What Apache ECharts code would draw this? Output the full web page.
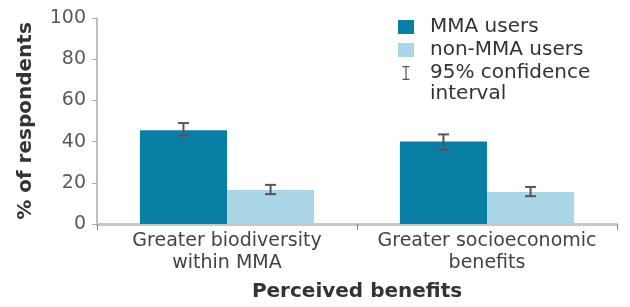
<!DOCTYPE html>
<html style="height: 100%">
   <head>
       <meta charset="utf-8">
       <script src="https://cdn.jsdelivr.net/npm/echarts@6/dist/echarts.min.js"></script>
       <title>Perceived benefits</title>
   </head>
   <body style="height: 100%; margin: 0; background: #fff">
       <div id="container" style="width: 630px; height: 307px"></div>
       <script type="text/javascript">

let categories = ['Greater biodiversity\nwithin MMA', 'Greater socioeconomic\nbenefits'];
let mmaValues = [45.5, 40];
let nonMmaValues = [16.5, 15.5];
// 95% confidence interval, low / high
let mmaLow = [43, 36];
let mmaHigh = [49, 43.5];
let nonMmaLow = [14.5, 13.5];
let nonMmaHigh = [19, 18];

const gapRatio = 0.33;
let errData = [];
for (let i = 0; i < categories.length; i++) {
    errData.push([i, mmaLow[i], mmaHigh[i], -1]);
    errData.push([i, nonMmaLow[i], nonMmaHigh[i], 1]);
}

function renderErr(params, api) {
    let cat = api.value(0);
    let lo = api.coord([cat, api.value(1)]);
    let hi = api.coord([cat, api.value(2)]);
    let bw = api.size([1, 0])[0] * (1 - gapRatio) / 2;
    let x = lo[0] + api.value(3) * bw / 2;
    let half = 5.5;
    let st = { stroke: '#555', lineWidth: 2 };
    return {
        type: 'group',
        children: [
            { type: 'line', shape: { x1: x, y1: hi[1], x2: x, y2: lo[1] }, style: st },
            { type: 'line', shape: { x1: x - half, y1: hi[1], x2: x + half, y2: hi[1] }, style: st },
            { type: 'line', shape: { x1: x - half, y1: lo[1], x2: x + half, y2: lo[1] }, style: st }
        ]
    };
}

let font = '"DejaVu Sans", sans-serif';
let chart = echarts.init(document.getElementById('container'));
chart.setOption({
    animation: false,
    textStyle: { fontFamily: font },
    grid: { left: 97, right: 13, top: 18, bottom: 81 },
    legend: {
        orient: 'vertical',
        left: 398,
        top: 16,
        padding: 0,
        itemWidth: 16,
        itemHeight: 14,
        itemGap: 1,
        textStyle: { fontSize: 20, color: '#333', fontFamily: font, lineHeight: 22, padding: [0, 0, 0, 11] },
        data: [
            { name: 'MMA users', icon: 'rect' },
            { name: 'non-MMA users', icon: 'rect' },
            { name: '95% confidence', icon: 'path://M0,0h9v1.6h-3.7v14.8h3.7v1.6h-9v-1.6h3.7v-14.8h-3.7z',
              itemStyle: { color: '#555' } }
        ]
    },
    graphic: [
        { type: 'text', left: 430, top: 84,
          style: { text: 'interval', fontSize: 20, fill: '#333', fontFamily: font } }
    ],
    xAxis: {
        type: 'category',
        data: categories,
        name: 'Perceived benefits',
        nameLocation: 'middle',
        nameGap: 58,
        nameTextStyle: { fontSize: 20, fontWeight: 'bold', color: '#333', fontFamily: font },
        axisLine: { lineStyle: { color: '#c8c8c8', width: 3 } },
        axisTick: { show: true, interval: 0, length: 6, lineStyle: { color: '#888', width: 1 } },
        axisLabel: { interval: 0, fontSize: 19, color: '#444', lineHeight: 22, margin: 6, fontFamily: font }
    },
    yAxis: {
        type: 'value',
        min: 0,
        max: 100,
        interval: 20,
        name: '% of respondents',
        nameLocation: 'middle',
        nameGap: 61,
        nameTextStyle: { fontSize: 20, fontWeight: 'bold', color: '#333', fontFamily: font },
        splitLine: { show: false },
        axisLine: { show: true, lineStyle: { color: '#aaa', width: 1.5 } },
        axisTick: { show: true, length: 5, lineStyle: { color: '#aaa' } },
        axisLabel: { fontSize: 19, color: '#5a5a5a', margin: 11, fontFamily: font }
    },
    series: [
        {
            name: 'MMA users',
            type: 'bar',
            data: mmaValues,
            barGap: 0,
            barCategoryGap: (gapRatio * 100) + '%',
            itemStyle: { color: '#0a7fa6' }
        },
        {
            name: 'non-MMA users',
            type: 'bar',
            data: nonMmaValues,
            itemStyle: { color: '#aad6e7' }
        },
        {
            name: '95% confidence',
            type: 'custom',
            renderItem: renderErr,
            data: errData,
            itemStyle: { color: '#555' },
            z: 5
        }
    ]
});

       </script>
   </body>
</html>
